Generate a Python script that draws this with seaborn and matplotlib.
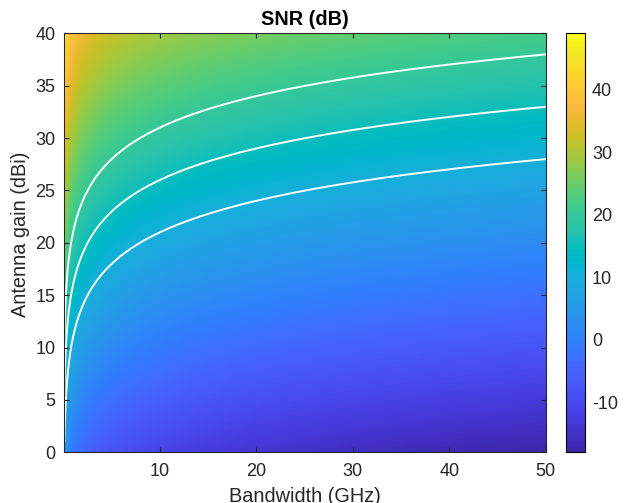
import numpy as np
import matplotlib
matplotlib.use("Agg")
import matplotlib.pyplot as plt
from matplotlib.colors import LinearSegmentedColormap
import seaborn as sns
import pandas as pd

# ---- data / parameters ----
bandwidth_range = [0.1, 50.0]      # GHz
gain_range = [0.0, 40.0]           # dBi
snr_offset = -1.0                  # dB, SNR = G - 10log10(B) + offset
contour_levels = [10, 15, 20]      # dB
x_ticks = [10, 20, 30, 40, 50]
y_ticks = [0, 5, 10, 15, 20, 25, 30, 35, 40]
cbar_ticks = [-10, 0, 10, 20, 30, 40]

parula_data = [
 [0.2422,0.1504,0.6603],[0.2504,0.1650,0.7076],[0.2578,0.1818,0.7511],[0.2647,0.1978,0.7952],
 [0.2706,0.2147,0.8364],[0.2751,0.2342,0.8710],[0.2783,0.2559,0.8991],[0.2803,0.2782,0.9221],
 [0.2813,0.3006,0.9414],[0.2810,0.3228,0.9579],[0.2795,0.3447,0.9717],[0.2760,0.3667,0.9829],
 [0.2699,0.3892,0.9906],[0.2602,0.4123,0.9952],[0.2440,0.4358,0.9988],[0.2206,0.4603,0.9973],
 [0.1963,0.4847,0.9892],[0.1834,0.5074,0.9798],[0.1786,0.5289,0.9682],[0.1764,0.5499,0.9520],
 [0.1687,0.5703,0.9359],[0.1540,0.5902,0.9218],[0.1460,0.6091,0.9079],[0.1380,0.6276,0.8973],
 [0.1248,0.6459,0.8883],[0.1113,0.6635,0.8763],[0.0952,0.6798,0.8598],[0.0689,0.6948,0.8394],
 [0.0297,0.7082,0.8163],[0.0036,0.7203,0.7917],[0.0067,0.7312,0.7660],[0.0433,0.7411,0.7394],
 [0.0964,0.7500,0.7120],[0.1408,0.7584,0.6842],[0.1717,0.7670,0.6554],[0.1938,0.7758,0.6251],
 [0.2161,0.7843,0.5923],[0.2470,0.7918,0.5567],[0.2906,0.7973,0.5188],[0.3406,0.8008,0.4789],
 [0.3909,0.8029,0.4354],[0.4456,0.8024,0.3909],[0.5044,0.7993,0.3480],[0.5616,0.7942,0.3045],
 [0.6174,0.7876,0.2612],[0.6720,0.7793,0.2227],[0.7242,0.7698,0.1910],[0.7738,0.7598,0.1646],
 [0.8203,0.7498,0.1535],[0.8634,0.7406,0.1596],[0.9035,0.7330,0.1774],[0.9393,0.7288,0.2100],
 [0.9728,0.7298,0.2394],[0.9956,0.7434,0.2371],[0.9970,0.7659,0.2199],[0.9952,0.7893,0.2028],
 [0.9892,0.8136,0.1885],[0.9786,0.8386,0.1766],[0.9676,0.8639,0.1643],[0.9610,0.8890,0.1537],
 [0.9597,0.9135,0.1423],[0.9628,0.9373,0.1265],[0.9691,0.9606,0.1064],[0.9769,0.9839,0.0805]]
parula = LinearSegmentedColormap.from_list("parula", parula_data, N=256)

sns.set_theme(style="ticks")
plt.rcParams['font.family'] = ['Liberation Sans', 'DejaVu Sans']
ink = '#262626'
plt.rcParams.update({
    'axes.edgecolor': ink, 'xtick.color': ink, 'ytick.color': ink,
    'axes.labelcolor': ink, 'text.color': 'black',
    'xtick.direction': 'in', 'ytick.direction': 'in',
    'axes.unicode_minus': False,
})

fig = plt.figure(figsize=(6.31, 5.03), dpi=100)
ax = fig.add_axes([0.102, 0.1008, 0.763, 0.833])
cax = fig.add_axes([0.8965, 0.1008, 0.0306, 0.833])

B = np.linspace(bandwidth_range[0], bandwidth_range[1], 600)
G = np.linspace(gain_range[0], gain_range[1], 400)
BB, GG = np.meshgrid(B, G)
SNR = GG - 10 * np.log10(BB) + snr_offset

mesh = ax.pcolormesh(BB, GG, SNR, cmap=parula, shading='gouraud', rasterized=True)

# contour lines as curves: G = level - offset + 10log10(B)
Bc = np.geomspace(bandwidth_range[0], bandwidth_range[1], 800)
rows = []
for lv in contour_levels:
    g = lv - snr_offset + 10 * np.log10(Bc)
    rows.append(pd.DataFrame({'B': Bc, 'G': g, 'level': lv}))
df = pd.concat(rows)
df = df[(df.G >= gain_range[0]) & (df.G <= gain_range[1])]
sns.lineplot(data=df, x='B', y='G', units='level', estimator=None, color='white',
             lw=1.4, ax=ax, legend=False, sort=False)

ax.set_axisbelow(False)
ax.set_xlim(bandwidth_range)
ax.set_ylim(gain_range)
ax.set_xticks(x_ticks)
ax.set_yticks(y_ticks)
ax.tick_params(top=True, right=True, length=3.6, width=0.8, labelsize=13)
ax.tick_params(axis='x', pad=8)
ax.tick_params(axis='y', pad=6.5)
for s in ax.spines.values():
    s.set_linewidth(0.8)
ax.set_xlabel('Bandwidth (GHz)', fontsize=14.3, labelpad=5)
ax.set_ylabel('Antenna gain (dBi)', fontsize=14.3)
ax.yaxis.set_label_coords(-0.072, 0.52)
ax.set_title('SNR (dB)', fontsize=14.3, fontweight='bold', pad=6)

cb = fig.colorbar(mesh, cax=cax, ticks=cbar_ticks)
cb.ax.tick_params(direction='in', length=3.6, width=0.8, labelsize=13, color='black', pad=5)
cb.outline.set_edgecolor('black')
cb.outline.set_linewidth(0.8)

fig.savefig('out.png', dpi=100)
